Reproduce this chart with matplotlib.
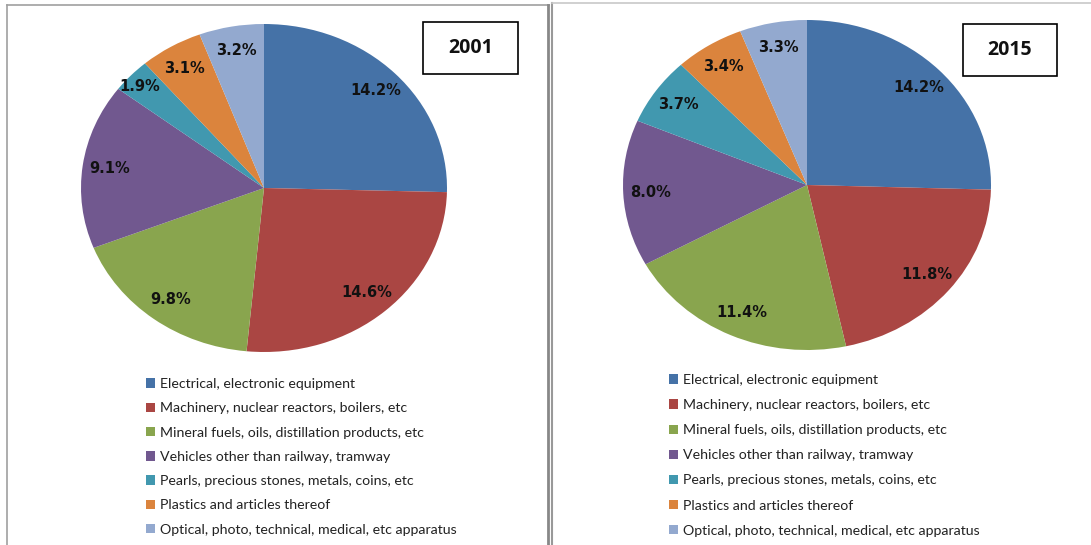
import matplotlib
matplotlib.use('Agg')
import matplotlib.pyplot as plt
from matplotlib.patches import Rectangle
from matplotlib.lines import Line2D

# data
categories = ['Electrical, electronic equipment',
              'Machinery, nuclear reactors, boilers, etc',
              'Mineral fuels, oils, distillation products, etc',
              'Vehicles other than railway, tramway',
              'Pearls, precious stones, metals, coins, etc',
              'Plastics and articles thereof',
              'Optical, photo, technical, medical, etc apparatus']
share_2001 = [14.2, 14.6, 9.8, 9.1, 1.9, 3.1, 3.2]
share_2015 = [14.2, 11.8, 11.4, 8.0, 3.7, 3.4, 3.3]
years = ['2001', '2015']

colors = ['#4572A7', '#AA4643', '#89A54E', '#71588F', '#4198AF', '#DB843D', '#93A9CF']

W, H = 1091, 545
fig = plt.figure(figsize=(W / 100, H / 100), dpi=100)

def fx(px):
    return px / W

def fy(py):
    return 1 - py / H

# pie boxes in pixels: left, top, right, bottom
pie_boxes = [(81, 24, 447, 352), (623, 20, 991, 350)]
legend_anchor = [(146, 378), (669, 374)]
legend_spacing = [0.865, 0.925]
year_boxes = [(423, 22, 518, 74), (963, 24, 1057, 76)]

for i, vals in enumerate([share_2001, share_2015]):
    l, t, r, b = pie_boxes[i]
    ax = fig.add_axes([fx(l), fy(b), fx(r - l), (b - t) / H])
    wedges, texts, autotexts = ax.pie(vals, colors=colors, startangle=90, counterclock=False,
                                      autopct=lambda p: '', pctdistance=0.85,
                                      wedgeprops=dict(linewidth=0))
    for at, v in zip(autotexts, vals):
        at.set_text('%.1f%%' % v)
        at.set_fontsize(10.5)
        at.set_fontweight('bold')
        at.set_color('#111111')
    # the smallest slice label sits out near the rim
    if i == 0:
        x, y = autotexts[4].get_position()
        autotexts[4].set_position((x * 1.1, y * 1.06))
    ax.set_aspect('auto')
    ax.set_xlim(-1, 1)
    ax.set_ylim(-1, 1)

    ax.legend(wedges, categories, loc='upper left',
              bbox_to_anchor=(fx(legend_anchor[i][0]), fy(legend_anchor[i][1])),
              bbox_transform=fig.transFigure, frameon=False,
              prop={'family': 'Lato', 'size': 10.2},
              handlelength=0.65, handleheight=0.65, handletextpad=0.35,
              labelspacing=legend_spacing[i], borderpad=0, borderaxespad=0,
              labelcolor='#222222')

    # year box
    bl, bt, br, bb = year_boxes[i]
    fig.add_artist(Rectangle((fx(bl), fy(bb)), fx(br - bl), (bb - bt) / H,
                             transform=fig.transFigure, fill=False,
                             edgecolor='black', linewidth=1.2))
    fig.text(fx((bl + br) / 2), fy((bt + bb) / 2), years[i], ha='center', va='center',
             fontsize=14, fontweight='bold', family='Open Sans', color='#111111')

# panel borders
fig.add_artist(Line2D([fx(7), fx(7)], [0, fy(5)], color='#A0A0A0', lw=1.2))
fig.add_artist(Line2D([fx(7), fx(549)], [fy(5), fy(5)], color='#A0A0A0', lw=1.2))
fig.add_artist(Line2D([fx(548), fx(548)], [0, fy(5)], color='#888888', lw=2))
fig.add_artist(Line2D([fx(552), fx(552)], [0, fy(3)], color='#999999', lw=1.5))
fig.add_artist(Line2D([fx(552), 1], [fy(3), fy(3)], color='#C8C8C8', lw=1.2))

fig.savefig('out.png', dpi=100)
